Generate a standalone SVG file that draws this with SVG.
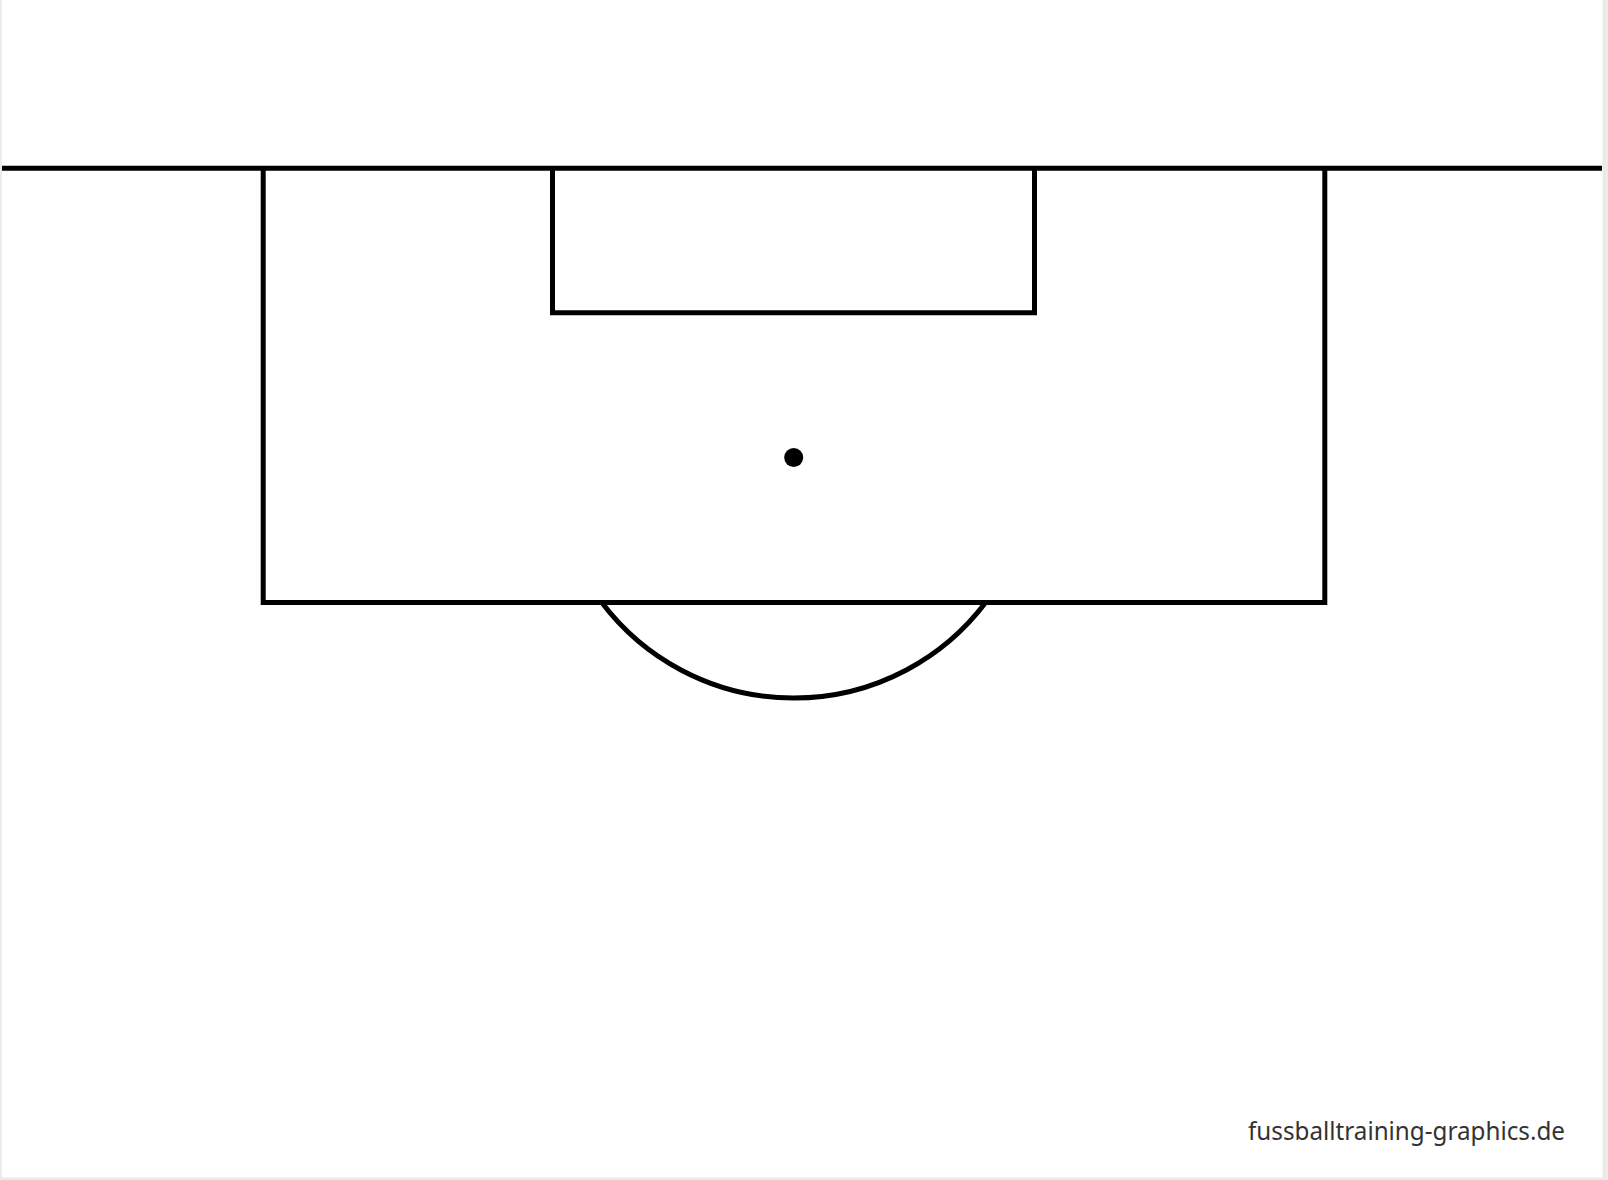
<svg xmlns="http://www.w3.org/2000/svg" width="1608" height="1180" viewBox="0 0 1608 1180">
<style>
.ln{fill:none;stroke:#000;stroke-width:5}
.lbl{font-family:"Noto Sans","Open Sans","Liberation Sans",sans-serif;font-size:26px;fill:#333}
</style>
<rect x="0" y="0" width="1608" height="1180" fill="#ebebeb"/>
<rect x="2" y="0" width="1600.5" height="1177.5" fill="#fff"/>
<g id="pitch">
<line id="goal-line" class="ln" x1="2" y1="168.3" x2="1602" y2="168.3"/>
<polyline id="penalty-box" class="ln" points="263.2,168.3 263.2,602.5 1324.8,602.5 1324.8,168.3"/>
<polyline id="goal-box" class="ln" points="552.5,168.3 552.5,312.7 1034.5,312.7 1034.5,168.3"/>
<circle id="penalty-spot" cx="793.7" cy="457.5" r="9.5" fill="#000"/>
<path id="penalty-arc" class="ln" d="M601.8,602.5 A240.5,240.5 0 0 0 985.6,602.5"/>
</g>
<text class="lbl" x="1565" y="1139.5" text-anchor="end" textLength="317" lengthAdjust="spacingAndGlyphs">fussballtraining-graphics.de</text>
</svg>
